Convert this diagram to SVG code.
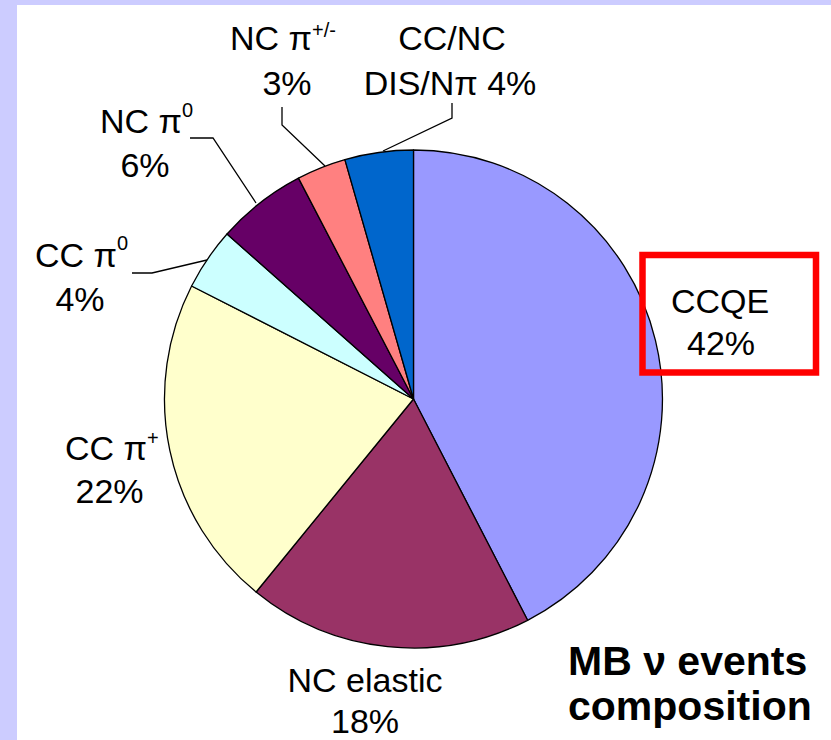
<svg xmlns="http://www.w3.org/2000/svg" width="831" height="740" viewBox="0 0 831 740">
<style>
.lbl{font-family:"Liberation Sans",Arial,sans-serif;font-size:34px;fill:#000}
.sup{font-size:20px}
.ttl{font-family:"Liberation Sans",Arial,sans-serif;font-size:41px;font-weight:bold;fill:#000}
.sl{stroke:#000;stroke-width:1.3;stroke-linejoin:round}
.ld{fill:none;stroke:#000;stroke-width:1.3}
</style>
<rect x="0" y="0" width="831" height="740" fill="#CCCCFF"/>
<rect x="17" y="5" width="814" height="735" fill="#FFFFFF"/>
<g id="pie">
<path id="ccqe" class="sl" fill="#9999FF" d="M413.5,399 L413.5,150 A249,249 0 0 1 527.6,620.3 Z"/>
<path id="ncel" class="sl" fill="#993366" d="M413.5,399 L527.6,620.3 A249,249 0 0 1 256.1,592 Z"/>
<path id="ccpip" class="sl" fill="#FFFFCC" d="M413.5,399 L256.1,592 A249,249 0 0 1 191.6,286 Z"/>
<path id="ccpi0" class="sl" fill="#CCFFFF" d="M413.5,399 L191.6,286 A249,249 0 0 1 227,234 Z"/>
<path id="ncpi0" class="sl" fill="#660066" d="M413.5,399 L227,234 A249,249 0 0 1 298.5,178.1 Z"/>
<path id="ncpipm" class="sl" fill="#FF8080" d="M413.5,399 L298.5,178.1 A249,249 0 0 1 344.9,159.6 Z"/>
<path id="dis" class="sl" fill="#0066CC" d="M413.5,399 L344.9,159.6 A249,249 0 0 1 413.5,150 Z"/>
</g>
<g id="connectors">
<polyline class="ld" points="282,107 282,125 325,166"/>
<polyline class="ld" points="452,103 452,118 383,151"/>
<polyline class="ld" points="190,138 213,138 256,203"/>
<polyline class="ld" points="132,273 152,273 207,260"/>
</g>
<g id="label-ncpipm">
<text class="lbl" x="230" y="50">NC π<tspan class="sup" dy="-13">+/-</tspan></text>
<text class="lbl" x="287" y="95" text-anchor="middle">3%</text>
</g>
<g id="label-dis">
<text class="lbl" x="452" y="50" text-anchor="middle">CC/NC</text>
<text class="lbl" x="450" y="95" text-anchor="middle">DIS/Nπ 4%</text>
</g>
<g id="label-ncpi0">
<text class="lbl" x="100" y="133">NC π<tspan class="sup" dy="-16">0</tspan></text>
<text class="lbl" x="145" y="177" text-anchor="middle">6%</text>
</g>
<g id="label-ccpi0">
<text class="lbl" x="35" y="267">CC π<tspan class="sup" dy="-17">0</tspan></text>
<text class="lbl" x="80" y="311" text-anchor="middle">4%</text>
</g>
<g id="label-ccpip">
<text class="lbl" x="65" y="460">CC π<tspan class="sup" dy="-15">+</tspan></text>
<text class="lbl" x="109.5" y="503" text-anchor="middle">22%</text>
</g>
<g id="label-ncel">
<text class="lbl" x="365" y="692" text-anchor="middle">NC elastic</text>
<text class="lbl" x="365" y="733" text-anchor="middle">18%</text>
</g>
<g id="label-ccqe">
<rect x="642.5" y="255" width="173.5" height="117.5" fill="none" stroke="#FF0000" stroke-width="6.5"/>
<text class="lbl" x="720" y="313" text-anchor="middle">CCQE</text>
<text class="lbl" x="721" y="355" text-anchor="middle">42%</text>
</g>
<g id="title">
<text class="ttl" x="568" y="675">MB ν events</text>
<text class="ttl" x="568" y="720">composition</text>
</g>
</svg>
